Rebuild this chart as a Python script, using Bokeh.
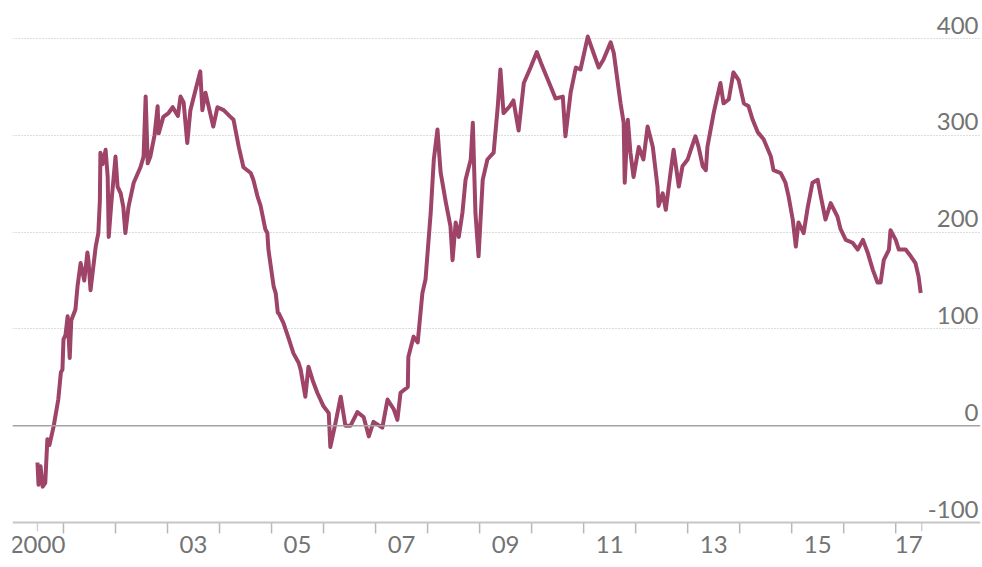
from bokeh.plotting import figure
from bokeh.models import Range1d, FixedTicker, Span, ColumnDataSource
from bokeh.core.properties import value
from bokeh.embed import file_html
from bokeh.resources import INLINE

# ---- data (decimal year, value) ----
years = [
    2000.50, 2000.52, 2000.56, 2000.60, 2000.65, 2000.69, 2000.73, 2000.81, 2000.90, 2000.95,
    2000.98, 2001.00, 2001.04, 2001.08, 2001.12, 2001.15, 2001.23, 2001.27, 2001.33, 2001.40,
    2001.46, 2001.48, 2001.52, 2001.62, 2001.67, 2001.70, 2001.71, 2001.75, 2001.81, 2001.85,
    2001.87, 2001.92, 2002.00, 2002.04, 2002.10, 2002.15, 2002.19, 2002.25, 2002.35, 2002.48,
    2002.54, 2002.58, 2002.62, 2002.67, 2002.75, 2002.81, 2002.83, 2002.92, 2003.02, 2003.10,
    2003.20, 2003.25, 2003.31, 2003.38, 2003.44, 2003.54, 2003.63, 2003.67, 2003.73, 2003.88,
    2003.96, 2004.08, 2004.21, 2004.27, 2004.37, 2004.46, 2004.60, 2004.65, 2004.73, 2004.79,
    2004.88, 2004.92, 2004.94, 2005.04, 2005.08, 2005.12, 2005.14, 2005.23, 2005.33, 2005.42,
    2005.52, 2005.56, 2005.65, 2005.71, 2005.79, 2005.88, 2006.00, 2006.10, 2006.13, 2006.23,
    2006.33, 2006.42, 2006.52, 2006.65, 2006.77, 2006.87, 2006.96, 2007.13, 2007.23, 2007.35,
    2007.42, 2007.48, 2007.62, 2007.63, 2007.73, 2007.81, 2007.90, 2007.96, 2008.06, 2008.12,
    2008.19, 2008.25, 2008.35, 2008.44, 2008.48, 2008.54, 2008.60, 2008.67, 2008.73, 2008.83,
    2008.87, 2008.92, 2008.98, 2009.06, 2009.15, 2009.27, 2009.35, 2009.40, 2009.46, 2009.58,
    2009.65, 2009.75, 2009.85, 2009.98, 2010.10, 2010.20, 2010.37, 2010.46, 2010.60, 2010.65,
    2010.75, 2010.85, 2010.94, 2011.08, 2011.19, 2011.29, 2011.38, 2011.52, 2011.58, 2011.65,
    2011.71, 2011.77, 2011.79, 2011.85, 2011.90, 2011.96, 2012.06, 2012.15, 2012.23, 2012.33,
    2012.42, 2012.44, 2012.52, 2012.58, 2012.67, 2012.73, 2012.83, 2012.90, 2013.00, 2013.06,
    2013.15, 2013.21, 2013.29, 2013.35, 2013.38, 2013.50, 2013.63, 2013.69, 2013.79, 2013.88,
    2013.98, 2014.08, 2014.17, 2014.25, 2014.35, 2014.46, 2014.60, 2014.65, 2014.79, 2014.88,
    2014.94, 2015.02, 2015.08, 2015.13, 2015.23, 2015.31, 2015.40, 2015.50, 2015.56, 2015.65,
    2015.75, 2015.88, 2015.94, 2016.04, 2016.17, 2016.27, 2016.37, 2016.46, 2016.56, 2016.65,
    2016.71, 2016.77, 2016.87, 2016.90, 2017.00, 2017.06, 2017.19, 2017.29, 2017.38, 2017.44,
    2017.48,
]
values = [
    -38, -61, -42, -63, -59, -14, -20, -1, 27, 55,
    58, 89, 94, 113, 70, 109, 120, 144, 168, 150,
    179, 171, 140, 185, 199, 233, 282, 270, 285, 257,
    195, 230, 278, 247, 240, 226, 199, 226, 251, 267,
    278, 340, 271, 278, 300, 330, 302, 319, 323, 329,
    320, 340, 334, 292, 326, 347, 366, 326, 344, 309,
    329, 326, 319, 316, 288, 267, 261, 254, 237, 227,
    203, 199, 182, 144, 137, 117, 116, 106, 90, 75,
    65, 58, 30, 61, 47, 34, 20, 13, -22, 3,
    30, 0, 0, 14, 9, -11, 4, -2, 27, 17,
    6, 34, 40, 71, 92, 86, 137, 151, 220, 275,
    306, 262, 231, 206, 171, 210, 195, 220, 254, 275,
    313, 220, 175, 254, 275, 282, 330, 368, 323, 330,
    336, 305, 354, 370, 386, 372, 350, 338, 340, 299,
    344, 370, 368, 402, 385, 370, 378, 396, 385, 357,
    333, 313, 251, 316, 282, 257, 288, 275, 309, 288,
    247, 227, 240, 223, 261, 285, 247, 268, 275, 285,
    299, 288, 268, 264, 288, 323, 354, 333, 337, 365,
    357, 333, 330, 316, 303, 296, 278, 264, 261, 251,
    237, 213, 185, 210, 199, 226, 251, 254, 237, 213,
    230, 216, 203, 192, 189, 182, 192, 179, 161, 148,
    148, 171, 182, 202, 192, 182, 182, 175, 168, 154,
    137,
]

# axis ticks / labels
year_starts = [2001, 2002, 2003, 2004, 2005, 2006, 2007, 2008, 2009, 2010,
               2011, 2012, 2013, 2014, 2015, 2016, 2017]
end_ticks = [2000.5, 2017.5]
label_pos = [2000.5, 2003.5, 2005.5, 2007.5, 2009.5, 2011.5, 2013.5, 2015.5, 2017.25]
label_txt = ["2000", "03", "05", "07", "09", "11", "13", "15", "17"]
y_ticks = [-100, 0, 100, 200, 300, 400]
y_labels = ["-100", "0", "100", "200", "300", "400"]
grid_vals = [100, 200, 300, 400]
y_min = -100

FONT = "Lato"
TXT = "#737373"

# vertical scale: 0.968 px per unit
PX = 0.968
W, H = 982, 567
p = figure(width=W, height=H, output_backend="svg", toolbar_location=None,
           x_range=Range1d(2000.02, 2018.63),
           y_range=Range1d(y_min - 45 / PX, 400 + 38 / PX),
           min_border_left=12, min_border_right=2, min_border_top=0, min_border_bottom=0)
p.outline_line_color = None
p.background_fill_color = "white"
p.border_fill_color = "white"
p.xaxis.visible = False
p.yaxis.visible = False
p.xgrid.visible = False
p.ygrid.ticker = FixedTicker(ticks=grid_vals)
p.ygrid.grid_line_color = "#bdbdbd"
p.ygrid.grid_line_dash = "1 2"
p.ygrid.grid_line_width = 1

# zero line and bottom axis line
p.add_layout(Span(location=0, dimension="width", line_color="#a3a3a3", line_width=1.5))
p.add_layout(Span(location=y_min, dimension="width", line_color="#c6c6c6", line_width=2))

# tick marks below the axis line
tick_len = 11 / PX
p.segment(x0=year_starts, y0=[y_min] * len(year_starts),
          x1=year_starts, y1=[y_min - tick_len] * len(year_starts),
          line_color="#b8b8b8", line_width=1.5)
p.segment(x0=end_ticks, y0=[y_min] * len(end_ticks),
          x1=end_ticks, y1=[y_min - tick_len * 0.8] * len(end_ticks),
          line_color="#d0d0d0", line_width=1.5)

# x labels
p.text(x=label_pos, y=[y_min] * len(label_pos), text=label_txt,
       text_align="center", text_baseline="top", y_offset=13,
       text_font=value(FONT), text_font_size="24px", text_color=TXT)

# series
src = ColumnDataSource(dict(x=years, y=values))
p.line("x", "y", source=src, line_color="#9e4468", line_width=4, line_join="round")

# y labels (right, above gridlines)
lab = ColumnDataSource(dict(x=[2018.63] * len(y_ticks), y=y_ticks, t=y_labels))
p.text("x", "y", text="t", source=lab, text_align="right", text_baseline="bottom",
       x_offset=-2, y_offset=-5, text_font=value(FONT), text_font_size="24px",
       text_color=TXT)

open("out.html", "w").write(file_html(p, INLINE))
